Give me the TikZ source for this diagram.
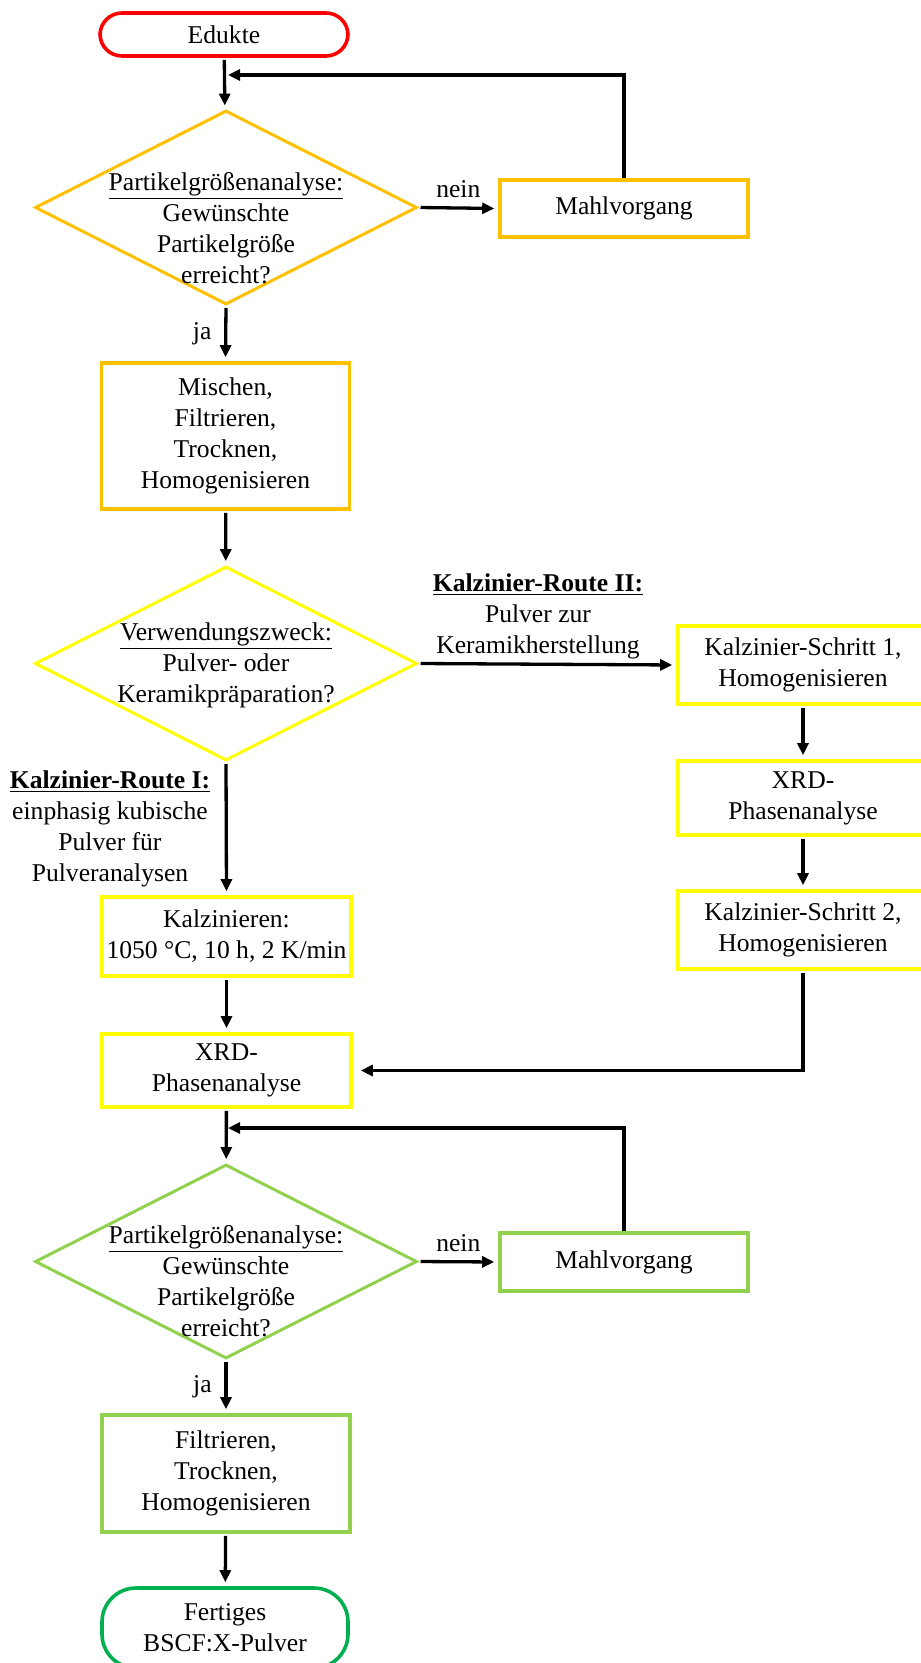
\documentclass[tikz,border=0pt]{standalone}
\usepackage{fontspec}
\setmainfont{Liberation Serif}
\usetikzlibrary{arrows.meta,shapes.geometric,positioning}
\definecolor{edorange}{HTML}{FFC000}
\definecolor{edyellow}{HTML}{FFFF00}
\definecolor{edlgreen}{HTML}{92D050}
\definecolor{edgreen}{HTML}{00B050}
\definecolor{edred}{HTML}{FF0000}

\begin{document}
\begin{tikzpicture}[x=0.5pt,y=-0.5pt,
  every node/.style={font=\fontsize{12.8}{15.5}\selectfont},
  box/.style={draw, line width=1.8pt, align=center, inner sep=0pt, minimum width=124pt},
  decision/.style={draw, diamond, line width=1.5pt, inner sep=0pt, minimum width=191pt, minimum height=97pt},
  terminal/.style={draw, rounded corners=11pt, line width=1.8pt, align=center, inner sep=0pt, minimum width=124pt},
  arr/.style={line width=1.65pt, -{Triangle[length=6pt,width=5.5pt]}, shorten >=2pt, shorten <=1pt}]
\useasboundingbox (0,0) rectangle (920,1663);

\draw (224,34.5) node (edukte) [terminal, edred, text=black, minimum height=21.5pt] {Edukte};
\draw (226,207.5) node (d1) [decision, edorange] {};
\draw (226,228) node (d1txt) [align=center] {\underline{Partikelgrößenanalyse:}\\Gewünschte\\Partikelgröße\\erreicht?};
\draw (624,208.5) node (mahl1) [box, edorange, text=black, minimum height=28.5pt] {Mahlvorgang};
\draw (225.5,436) node (misch) [box, edorange, text=black, minimum height=73pt] {Mischen,\\Filtrieren,\\Trocknen,\\Homogenisieren};
\draw (226,663.5) node (d2) [decision, edyellow] {};
\draw (226,665) node (d2txt) [align=center] {\underline{Verwendungszweck:}\\Pulver- oder\\Keramikpräparation?};

\draw (803,665) node (s1) [box, edyellow, text=black, minimum width=125pt, minimum height=39pt] {Kalzinier-Schritt 1,\\Homogenisieren};
\draw (803,798) node (xrdR) [box, edyellow, text=black, minimum width=125pt, minimum height=37pt] {XRD-\\Phasenanalyse};
\draw (803,930) node (s2) [box, edyellow, text=black, minimum width=125pt, minimum height=39pt] {Kalzinier-Schritt 2,\\Homogenisieren};
\draw (538,616) node (route2) [align=center] {\underline{\textbf{Kalzinier-Route II:}}\\Pulver zur\\Keramikherstellung};
\draw (110,829) node (route1) [align=center] {\underline{\textbf{Kalzinier-Route I:}}\\einphasig kubische\\Pulver für\\Pulveranalysen};

\draw (226.5,936.5) node (kalz) [box, edyellow, text=black, minimum width=124.5pt, minimum height=39.5pt] {Kalzinieren:\\1050 °C, 10 h, 2 K/min};
\draw (226.5,1070.5) node (xrdL) [box, edyellow, text=black, minimum width=124.5pt, minimum height=36.5pt] {XRD-\\Phasenanalyse};

\draw (226,1261.5) node (d3) [decision, edlgreen] {};
\draw (226,1281) node (d3txt) [align=center] {\underline{Partikelgrößenanalyse:}\\Gewünschte\\Partikelgröße\\erreicht?};
\draw (624,1262) node (mahl2) [box, edlgreen, text=black, minimum height=29pt] {Mahlvorgang};
\draw (226,1473.5) node (filt) [box, edlgreen, text=black, minimum height=58.5pt] {Filtrieren,\\Trocknen,\\Homogenisieren};
\draw (225,1628) node (fertig) [terminal, edgreen, text=black, rounded corners=17pt, minimum width=123pt, minimum height=40pt] {Fertiges\\BSCF:X-Pulver};

\coordinate (fb1) at (228,75);
\coordinate (fb2) at (228,1128);

\draw[arr] (edukte)--(d1);
\draw[arr] (d1.east)--(mahl1.west) node[midway, above=1pt] {nein};
\draw[arr, shorten <=0pt, shorten >=0pt] (mahl1.north) |- (fb1);
\draw[arr] (d1.south)--(misch.north) node[midway, left=3pt] {ja};
\draw[arr] (misch)--(d2);
\draw[arr] (d2.east)--(s1.west);
\draw[arr] (s1)--(xrdR);
\draw[arr] (xrdR)--(s2);
\draw[arr] (d2.south)--(kalz.north);
\draw[arr] (kalz)--(xrdL);
\draw[arr, shorten >=4pt] (s2.south) |- (xrdL.east);
\draw[arr] (xrdL)--(d3);
\draw[arr, shorten <=0pt, shorten >=0pt] (mahl2.north) |- (fb2);
\draw[arr] (d3.east)--(mahl2.west) node[midway, above=1pt] {nein};
\draw[arr] (d3.south)--(filt.north) node[midway, left=3pt] {ja};
\draw[arr] (filt)--(fertig);
\end{tikzpicture}
\end{document}
